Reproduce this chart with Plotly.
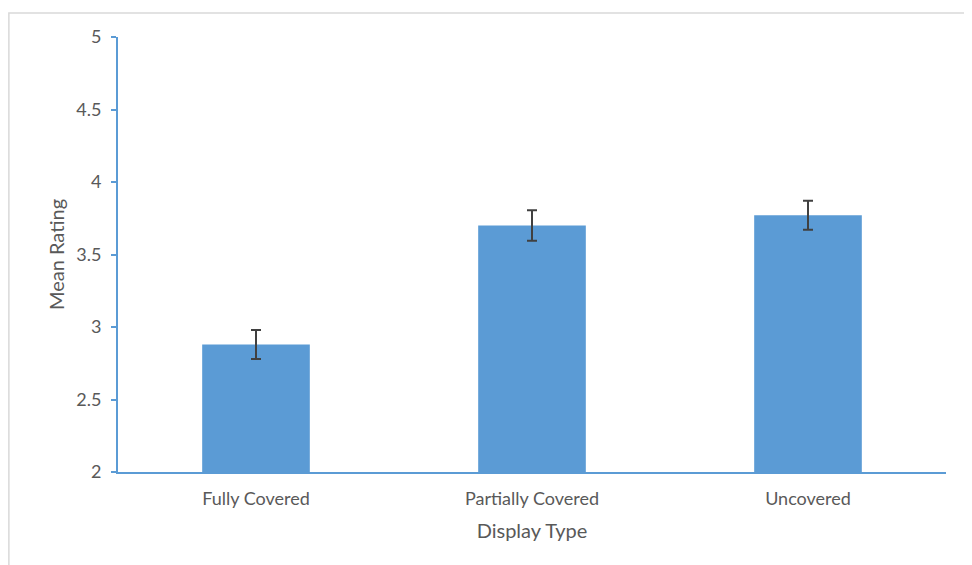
import plotly.graph_objects as go

categories = ["Fully Covered", "Partially Covered", "Uncovered"]
means = [2.88, 3.70, 3.77]
errors = [0.10, 0.105, 0.10]

bar_color = "#5B9BD5"
axis_color = "#5B9BD5"
text_color = "#595959"
font_family = "Lato, 'Open Sans', sans-serif"

fig = go.Figure()
fig.add_trace(go.Bar(
    x=categories,
    y=means,
    marker=dict(color=bar_color, line=dict(width=0)),
    width=0.39,
    error_y=dict(type="data", array=errors, visible=True,
                 color="#404040", thickness=2, width=5),
))

fig.update_layout(
    width=972, height=565,
    margin=dict(l=110, r=34, t=29, b=101),
    paper_bgcolor="white",
    plot_bgcolor="white",
    showlegend=False,
    font=dict(family=font_family, color=text_color, size=18),
    xaxis=dict(
        title=dict(text="Display Type", font=dict(size=20, color=text_color), standoff=16),
        showline=True, linecolor=axis_color, linewidth=2,
        ticks="", showgrid=False, zeroline=False,
        tickfont=dict(size=18, color=text_color),
        ticklabelstandoff=9,
    ),
    yaxis=dict(
        title=dict(text="Mean Rating", font=dict(size=20, color=text_color), standoff=6),
        range=[2, 5], dtick=0.5, tick0=2,
        showline=True, linecolor=axis_color, linewidth=2,
        ticks="outside", ticklen=5, tickcolor=axis_color, tickwidth=2,
        showgrid=False, zeroline=False,
        tickfont=dict(size=18, color=text_color),
        ticklabelstandoff=6,
    ),
    shapes=[dict(
        type="rect", xref="paper", yref="paper",
        x0=-0.1318, x1=1.025, y0=-0.25, y1=1.055,
        line=dict(color="#D9D9D9", width=1.5),
        fillcolor="rgba(0,0,0,0)", layer="below",
    )],
)

fig.write_html("out.html")
